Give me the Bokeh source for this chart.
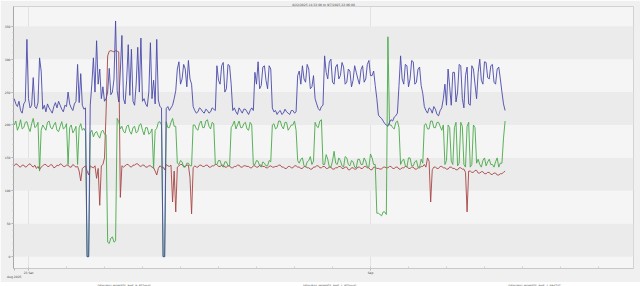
from bokeh.plotting import figure
from bokeh.layouts import column
from bokeh.models import Range1d, FixedTicker, Legend, LegendItem
from bokeh.embed import file_html
from bokeh.resources import INLINE

# sample times: hours relative to 23 Aug 2025 00:00, one sample per hour
hours = list(range(-9, 302))

blue = [240,232, 228,236, 222,218, 232,236, 330,240,
        226,230, 272,228, 225,234, 302,282, 224,230,
        220,232, 226,222, 218,228, 234,226, 236,230,
        224,220, 230,228, 250,232, 226,222, 232,236,
        292,234, 278,230, 224,226, 0,0, 230,262,
        302,250, 328,262, 285,240, 258,236, 240,250,
        286,246, 250,270, 358,252, 235,282, 336,240,
        232,268, 322,245, 315,236, 230,262, 318,250,
        332,236, 240,232, 228,250, 325,240, 268,232,
        330,238, 228,226, 0,0, 225,228, 222,226,
        230,240, 252,285, 296,262, 270,292, 285,258,
        298,270, 262,228, 222,218, 220,226, 224,220,
        218,224, 222,218, 220,226, 224,222, 290,268,
        262,290, 295,250, 255,292, 290,262, 222,226,
        220,216, 226,222, 218,224, 224,220, 216,222,
        226,222, 280,262, 296,255, 260,288, 290,268,
        255,290, 285,226, 220,222, 216,220, 222,216,
        218,224, 220,218, 216,222, 222,218, 220,275,
        282,262, 290,270, 265,292, 285,255, 258,275,
        240,232, 225,222, 228,230, 305,280, 270,296,
        300,265, 262,288, 292,270, 275,295, 288,262,
        265,285, 282,258, 268,290, 280,270, 262,284,
        290,265, 270,292, 298,275, 275,282, 260,240,
        215,212, 210,206, 202,200, 198,204, 208,206,
        212,214, 218,260, 305,270, 262,292, 290,258,
        270,298, 296,262, 265,285, 288,260, 248,228,
        222,218, 226,224, 218,228, 224,216, 214,222,
        226,240, 262,230, 285,258, 230,280, 280,235,
        250,292, 290,240, 226,275, 288,232, 230,290,
        285,262, 240,280, 300,268, 262,296, 295,272,
        270,290, 292,265, 262,285, 288,270, 250,232,
        222]

green = [200,206, 192,198, 208,194, 196,204, 205,196,
         190,202, 210,196, 198,204, 130,192, 200,196,
         192,204, 206,196, 194,200, 204,192, 190,198,
         205,194, 196,202, 140,196, 200,188, 192,198,
         140,196, 202,192, 195,190, 0,0, 188,192,
         182,188, 190,184, 180,190, 192,186, 185,22,
         20,28, 30,22, 24,210, 205,194, 198,190,
         188,198, 200,190, 186,196, 198,188, 190,200,
         202,192, 185,196, 196,186, 188,194, 134,192,
         195,204, 205,200, 0,0, 205,196, 196,204,
         210,198, 198,142, 140,146, 144,136, 136,142,
         142,138, 138,200, 200,194, 192,202, 206,196,
         196,206, 208,198, 194,204, 202,140, 140,146,
         146,138, 136,144, 144,138, 138,196, 200,206,
         194,200, 206,196, 196,202, 204,194, 192,204,
         200,140, 140,146, 145,138, 136,144, 142,138,
         138,146, 144,200, 202,194, 196,206, 206,198,
         194,204, 204,192, 196,200, 200,206, 192,146,
         142,148, 150,138, 136,144, 146,152, 140,145,
         204,198, 196,206, 208,140, 140,155, 148,136,
         136,145, 160,142, 140,150, 146,138, 136,152,
         150,140, 138,146, 144,136, 135,148, 148,140,
         140,150, 145,136, 136,156, 150,140, 140,66,
         66,64, 62,68, 68,64, 334,200, 200,196,
         194,204, 206,196, 140,146, 148,138, 136,150,
         150,138, 138,144, 146,136, 136,148, 142,200,
         202,194, 194,206, 206,196, 196,204, 204,198,
         192,200, 140,146, 200,196, 145,140, 196,204,
         138,142, 204,198, 140,136, 198,204, 136,140,
         200,196, 142,148, 140,136, 146,150, 138,144,
         148,140, 140,136, 144,150, 136,142, 142,180,
         206]

red = [138,141, 140,137, 136,139, 139,136, 137,140,
       141,138, 136,139, 134,137, 132,136, 138,140,
       140,137, 137,140, 139,135, 136,139, 138,141,
       140,137, 137,139, 139,136, 136,140, 138,136,
       137,130, 115,134, 136,138, 130,124, 138,136,
       135,138, 119,134, 78,138, 140,150, 220,305,
       312,313, 312,311, 313,312, 311,90, 138,136,
       138,140, 140,137, 136,139, 139,141, 141,138,
       137,139, 139,136, 136,138, 138,136, 135,130,
       124,134, 138,136, 136,132, 140,138, 137,139,
       83,130, 68,136, 138,140, 140,137, 137,139,
       139,120, 65,135, 138,136, 136,139, 139,137,
       137,139, 139,136, 136,138, 138,140, 140,137,
       137,139, 139,136, 136,138, 138,135, 135,137,
       137,139, 139,136, 136,138, 138,137, 137,135,
       135,138, 138,136, 136,139, 139,137, 137,135,
       135,137, 138,136, 136,137, 137,139, 139,136,
       136,134, 134,137, 137,135, 135,138, 138,136,
       136,134, 134,137, 137,135, 135,133, 133,136,
       136,138, 138,135, 135,137, 137,134, 134,136,
       136,133, 133,135, 135,137, 137,134, 134,136,
       136,132, 132,135, 135,133, 133,136, 136,134,
       134,137, 137,135, 135,132, 132,136, 136,134,
       134,133, 133,136, 136,135, 135,137, 137,134,
       134,136, 136,133, 133,135, 135,137, 137,134,
       134,136, 136,133, 133,135, 135,137, 137,140,
       136,150, 145,83, 132,136, 136,134, 134,137,
       137,135, 135,133, 133,136, 136,134, 134,132,
       132,135, 135,133, 133,128, 68,130, 130,128,
       128,131, 131,127, 127,129, 129,126, 126,128,
       128,125, 125,127, 127,124, 124,126, 126,128,
       130]

series_names = ["DEHUB01.MOMPTS_RHE_B_RTDAVG",
                "DEHUB01.MOMPTS_RHE_1_RTDAVG",
                "DEHUB01.MOMPTS_RHE_1_PRSTAT"]
series_colors = ["#4a4aaa", "#48a848", "#a84444"]
y_ticks = [0, 50, 100, 150, 200, 250, 300, 350]
x_grid = [0, 216]
x_major = [-9, 0, 216]
x_labels = {-9: "\nAug 2025", 0: "23 Sat", 216: "Sep"}
x_minor = list(range(0, 384, 24))
title_text = "8/22/2025 14:32:00 to 9/7/2025 22:06:00"

FONT = "DejaVu Sans"
FS = "3px"
TXT = "#444444"
BG = "#f0f0f0"

p = figure(frame_width=620, frame_height=262, output_backend="svg", toolbar_location=None,
           x_range=Range1d(-9.47, 382.1), y_range=Range1d(-18, 380),
           min_border_left=13, min_border_right=7, min_border_top=5,
           min_border_bottom=0,
           background_fill_color="#f5f5f5", border_fill_color=BG)
p.outline_line_color = "#d2d2d2"

p.title.text = title_text
p.title.align = "center"
p.title.text_font_size = FS
p.title.text_font = FONT
p.title.text_font_style = "normal"
p.title.text_color = TXT
p.title.standoff = 0
p.title.offset = 0

p.line(hours, red, line_color=series_colors[2], line_width=0.9)
p.line(hours, green, line_color=series_colors[1], line_width=0.9)
p.line(hours, blue, line_color=series_colors[0], line_width=0.9)

p.yaxis.ticker = FixedTicker(ticks=y_ticks, minor_ticks=list(range(0, 360, 10)))
p.yaxis.major_label_text_font_size = FS
p.yaxis.major_label_text_font = FONT
p.yaxis.major_label_text_color = TXT
p.yaxis.major_tick_out = 2
p.yaxis.major_tick_in = 0
p.yaxis.minor_tick_out = 1
p.yaxis.minor_tick_in = 0
p.yaxis.major_label_standoff = 1
p.yaxis.axis_line_color = "#a8a8a8"
p.yaxis.major_tick_line_color = "#a8a8a8"
p.yaxis.minor_tick_line_color = "#c0c0c0"

p.xaxis.ticker = FixedTicker(ticks=x_major, minor_ticks=x_minor)
p.xaxis.major_label_overrides = x_labels
p.xaxis.major_label_text_font_size = FS
p.xaxis.major_label_text_font = FONT
p.xaxis.major_label_text_color = TXT
p.xaxis.major_tick_out = 2
p.xaxis.major_tick_in = 0
p.xaxis.minor_tick_out = 0
p.xaxis.minor_tick_in = 2
p.xaxis.major_label_standoff = 0
p.xaxis.axis_line_color = "#c8c8c8"
p.xaxis.major_tick_line_color = "#b8b8b8"
p.xaxis.minor_tick_line_color = "#d0d0d0"

p.xgrid.ticker = FixedTicker(ticks=x_grid)
p.xgrid.grid_line_color = "#e2e2e2"
p.ygrid.grid_line_color = None
p.ygrid.band_fill_color = "#ebebeb"
p.ygrid.band_fill_alpha = 1

# separate strip for the legend below the chart
leg = figure(width=640, height=7, output_backend="svg", toolbar_location=None,
             x_range=Range1d(0, 1), y_range=Range1d(0, 1),
             x_axis_location=None, y_axis_location=None,
             min_border=0, background_fill_color=BG, border_fill_color=BG)
leg.outline_line_color = None
leg.grid.visible = False
keys = [leg.line([], [], line_color=c, line_width=1) for c in series_colors]
legend = Legend(items=[LegendItem(label=n, renderers=[k]) for n, k in zip(series_names, keys)],
                orientation="horizontal", location="center",
                label_text_font_size=FS, label_text_font=FONT,
                label_text_color=TXT,
                glyph_width=10, glyph_height=3, label_standoff=2, label_height=3,
                spacing=140, padding=0, margin=0,
                background_fill_alpha=0, border_line_color=None)
leg.add_layout(legend)

layout = column(p, leg, spacing=0)
open("out.html", "w").write(file_html(layout, INLINE))
